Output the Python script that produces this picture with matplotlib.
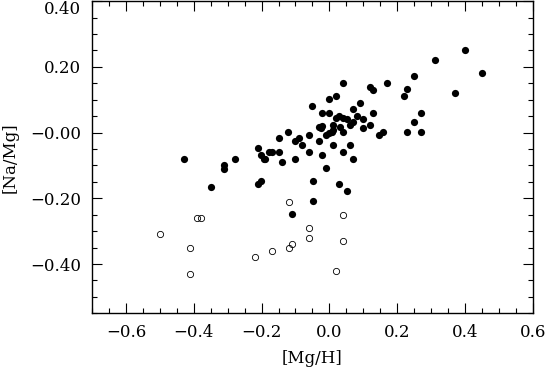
import numpy as np
import matplotlib
matplotlib.use("Agg")
import matplotlib.pyplot as plt
from matplotlib.ticker import MultipleLocator, FuncFormatter

# filled dots: [Mg/H], [Na/Mg]
mg_h = [-0.430, -0.349, -0.310, -0.310, -0.279, -0.210, -0.201, -0.194, -0.189,
        -0.211, -0.201, -0.179, -0.169, -0.150, -0.150, -0.140, -0.121, -0.110,
        -0.100, -0.100, -0.090, -0.080, -0.061, -0.061, -0.050, -0.049, -0.049,
        -0.030, -0.021, 0.000, -0.021, -0.010, -0.030, -0.026, -0.021, 0.000,
        0.020, 0.040, 0.010, -0.010, 0.000, 0.007, 0.012, 0.020, 0.029, 0.041,
        0.051, 0.012, 0.031, 0.041, 0.040, 0.060, 0.070, 0.070, 0.061, 0.071,
        0.081, 0.090, 0.100, 0.100, 0.120, 0.129, 0.129, 0.120, 0.147, 0.159,
        0.170, 0.219, 0.229, 0.229, 0.249, 0.249, 0.269, 0.269, 0.310, 0.370,
        0.399, 0.449, 0.029, 0.051]
na_mg = [-0.079, -0.167, -0.098, -0.110, -0.079, -0.047, -0.068, -0.079, -0.079,
         -0.158, -0.148, -0.058, -0.058, -0.058, -0.017, -0.089, 0.001, -0.247,
         -0.079, -0.027, -0.017, -0.038, -0.008, -0.058, 0.081, -0.148, -0.208,
         -0.027, 0.061, 0.061, -0.068, -0.108, 0.018, 0.013, 0.020, 0.101,
         0.111, 0.151, -0.038, -0.007, -0.002, 0.003, 0.008, 0.044, 0.051, 0.044,
         0.042, 0.023, 0.018, 0.003, -0.058, -0.038, 0.071, -0.079, 0.023, 0.033,
         0.051, 0.091, 0.013, 0.042, 0.139, 0.129, 0.061, 0.022, -0.008, 0.001,
         0.152, 0.111, 0.132, 0.001, 0.171, 0.032, 0.061, 0.001, 0.220, 0.121,
         0.251, 0.181, -0.158, -0.179]

# open circles
mg_h_open = [-0.50, -0.41, -0.41, -0.39, -0.38, -0.22, -0.17, -0.12, -0.12,
             -0.11, -0.06, -0.06, 0.04, 0.04, 0.02]
na_mg_open = [-0.31, -0.35, -0.43, -0.26, -0.26, -0.38, -0.36, -0.21, -0.35,
              -0.34, -0.29, -0.32, -0.25, -0.33, -0.42]

xticks = [-0.6, -0.4, -0.2, 0.0, 0.2, 0.4, 0.6]
yticks = [-0.4, -0.2, 0.0, 0.2, 0.4]

plt.rcParams['font.family'] = ['DejaVu Serif']

fig = plt.figure(figsize=(5.46, 3.67), dpi=100)
ax = fig.add_axes([0.1685, 0.1463, 0.8075, 0.8507])

ax.plot(mg_h, na_mg, 'o', color='black', markersize=5.2, markeredgewidth=0)
ax.plot(mg_h_open, na_mg_open, 'o', markerfacecolor='none',
        markeredgecolor='black', markersize=4.5, markeredgewidth=0.6)

ax.set_xlim(-0.7, 0.6)
ax.set_ylim(-0.55, 0.40)
ax.set_xticks(xticks)
ax.set_yticks(yticks)
ax.xaxis.set_minor_locator(MultipleLocator(0.05))
ax.yaxis.set_minor_locator(MultipleLocator(0.05))

def xfmt(v, pos):
    return ('%.1f' % v).replace('-', '\u2212').replace('\u22120.0', '0.0')

def yfmt(v, pos):
    if abs(v) < 1e-9:
        return '\u22120.00'
    return ('%.2f' % v).replace('-', '\u2212')

ax.xaxis.set_major_formatter(FuncFormatter(xfmt))
ax.yaxis.set_major_formatter(FuncFormatter(yfmt))

ax.tick_params(which='both', direction='in', top=True, right=True,
               labelsize=12, width=0.8)
ax.tick_params(which='major', length=7, pad=8)
ax.tick_params(which='minor', length=3.5)
for s in ax.spines.values():
    s.set_linewidth(1.0)

# top label sits below the axis edge, as in the original
ax.get_yticklabels()[-1].set_verticalalignment('top')

ax.set_xlabel('[Mg/H]', fontsize=12, labelpad=6)
ax.set_ylabel('[Na/Mg]', fontsize=12, labelpad=8)

fig.savefig('out.png', dpi=100)
